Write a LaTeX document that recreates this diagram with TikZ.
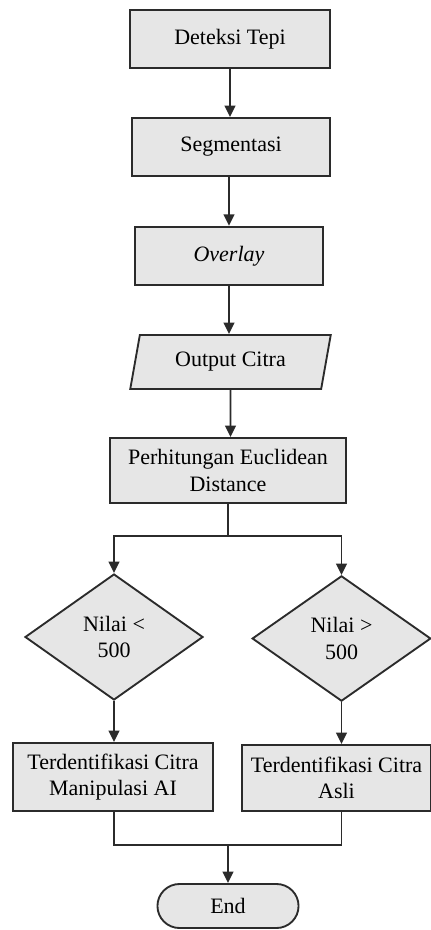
\documentclass[tikz,border=0pt]{standalone}
\usepackage{fontspec}
\setmainfont{Liberation Serif}
\usetikzlibrary{shapes.geometric,shapes.misc,arrows.meta}

\definecolor{isian}{HTML}{E6E6E6}
\definecolor{garis}{HTML}{2B2B2B}

\tikzset{
	proc/.style={draw=garis, fill=isian, line width=1.4pt, rectangle, align=center, inner sep=2pt},
	io/.style={draw=garis, fill=isian, line width=1.4pt, trapezium, trapezium left angle=76, trapezium right angle=104, trapezium stretches=true, align=center, inner sep=2pt},
	decision/.style={draw=garis, fill=isian, line width=1.4pt, diamond, align=center, inner sep=0pt},
	term/.style={draw=garis, fill=isian, line width=1.4pt, rounded rectangle, align=center},
	arrow/.style={draw=garis, line width=1.4pt, -{Triangle[width=8pt,length=8.5pt]}},
	line/.style={draw=garis, line width=1.4pt}
}

\begin{document}
\begin{tikzpicture}[x=0.75pt,y=-0.75pt,font=\fontsize{16.5}{20}\selectfont]
		\useasboundingbox (0,0) rectangle (431,930);
		
		\node[proc, minimum width=150pt, minimum height=43.5pt] (dt) at (230,39) {Deteksi Tepi};
		\node[proc, minimum width=148pt, minimum height=43.5pt] (seg) at (231,147) {Segmentasi};
		\node[proc, minimum width=141pt, minimum height=44pt] (ovl) at (229,256) {\itshape Overlay};
		\node[io, minimum width=150.5pt, minimum height=40.5pt] (out) at (230.5,362) {Output Citra};
		\node[proc, minimum width=177pt, minimum height=48.75pt] (eu) at (228,470.5) {Perhitungan Euclidean\\Distance};
		
		\coordinate (split) at (228,536);
		
		\node[decision, minimum width=133.5pt, minimum height=94.5pt] (dl) at (114,637) {Nilai <\\500};
		\node[decision, minimum width=134pt, minimum height=94pt] (dr) at (341.5,638.5) {Nilai >\\500};
		
		\node[proc, minimum width=150pt, minimum height=51pt] (tl) at (113,777) {Terdentifikasi Citra\\Manipulasi AI};
		\node[proc, minimum width=141.75pt, minimum height=49.5pt] (tr) at (336.5,778) {Terdentifikasi Citra\\Asli};
		
		\coordinate (join) at (228,845);
		
		\node[term, minimum width=112.5pt, minimum height=33pt] (end) at (228,906) {End};
		
		\draw[arrow] (dt) -- (dt |- seg.north);
		\draw[arrow] (ovl |- seg.south) -- (ovl);
		\draw[arrow] (ovl) -- (ovl |- out.north);
		\draw[arrow] (out) -- (out |- eu.north);
		\draw[line] (eu) -- (split);
		\draw[arrow] (split) -| (dl.north);
		\draw[arrow] (split) -| (dr.north);
		\draw[arrow] (dl.south) -- (dl.south |- tl.north);
		\draw[arrow] (dr.south) -- (dr.south |- tr.north);
		\draw[line] (dl.south |- tl.south) |- (join);
		\draw[line] (dr.south |- tr.south) |- (join);
		\draw[arrow] (join) -- (end);
	\end{tikzpicture}
\end{document}
